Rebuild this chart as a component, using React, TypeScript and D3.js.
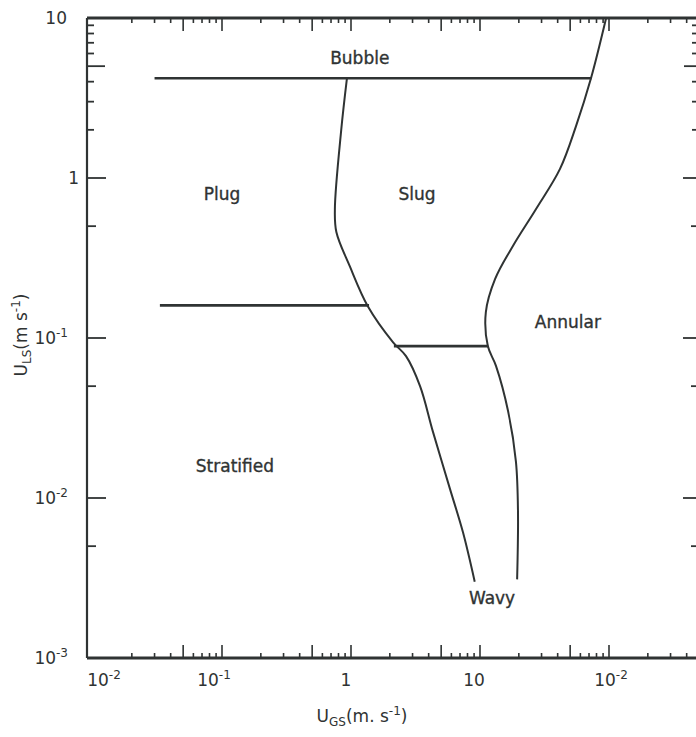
import React from "react";
import * as d3 from "d3";

// ---- data ----
// x: superficial gas velocity U_GS (m/s), y: superficial liquid velocity U_LS (m/s)
const leftBoundaryUGS = [0.93, 0.84, 0.75, 0.77, 0.98, 1.35, 2.12, 2.67, 3.43, 4.32, 5.85, 7.38, 9.1];
const leftBoundaryULS = [4.2, 2.0, 0.64, 0.46, 0.28, 0.158, 0.094, 0.077, 0.05, 0.0259, 0.0114, 0.0061, 0.003];

const rightBoundaryUGS = [95, 72.5, 55.5, 41.7, 27.2, 18.0, 13.1, 11.1, 11.5, 13.3, 16.5, 19.0, 19.7, 19.4];
const rightBoundaryULS = [10, 4.2, 2.11, 1.14, 0.64, 0.376, 0.234, 0.145, 0.089, 0.067, 0.035, 0.0168, 0.0082, 0.0031];

// horizontal transition lines: [UGS start, UGS end, ULS]
const bubbleLine = [0.03, 73, 4.2];
const plugStratLine = [0.033, 1.38, 0.16];
const slugWavyLine = [2.15, 11.6, 0.089];

const regimeNames = ["Bubble", "Plug", "Slug", "Annular", "Stratified", "Wavy"];
const regimeUGS = [1.17, 0.1, 3.25, 48, 0.126, 12.4];
const regimeULS = [5.6, 0.79, 0.79, 0.126, 0.0158, 0.00237];

const xTickValues = [0.01, 0.1, 1, 10, 100];
const xTickBase = ["10", "10", "1", "10", "10"];
const xTickExp = ["-2", "-1", "", "", "-2"];

const yTickValues = [10, 1, 0.1, 0.01, 0.001];
const yTickBase = ["10", "1", "10", "10", "10"];
const yTickExp = ["", "", "-1", "-2", "-3"];

// ---- layout ----
const W = 696, H = 737;
const FRAME = { left: 87, right: 700, top: 18, bottom: 658 };
const INK = "#2f3333";
const FONT = "'DejaVu Sans', sans-serif";
const xLabelDx = [11, -8, -5, -6, 2];

export default function App() {
  const x = d3.scaleLog().domain([0.01, 100]).range([93, 609]);
  const y = d3.scaleLog().domain([0.001, 10]).range([FRAME.bottom, FRAME.top]);

  const line = d3
    .line<[number, number]>()
    .x((d) => x(d[0]))
    .y((d) => y(d[1]))
    .curve(d3.curveCatmullRom.alpha(0.5));

  const leftPts = leftBoundaryUGS.map((v, i) => [v, leftBoundaryULS[i]] as [number, number]);
  const rightPts = rightBoundaryUGS.map((v, i) => [v, rightBoundaryULS[i]] as [number, number]);

  // tick sets
  const xMinor: number[] = [];
  const xLong: number[] = [];
  for (let e = -2; e <= 2; e++) {
    const base = Math.pow(10, e);
    for (let m = 2; m <= 9; m++) {
      const v = m * base;
      if (x(v) > FRAME.right - 8) continue;
      if (m === 5) xLong.push(v);
      else xMinor.push(v);
    }
    if (e > -2) xLong.push(base);
  }
  const yLong = [1, 0.1, 0.01];
  const yMid = [5, 0.5, 0.05, 0.005];
  const yMinor = [2, 3, 4, 6, 7, 8, 9];

  const hLine = (l: number[], key: string) => (
    <line
      key={key}
      x1={x(l[0])}
      x2={x(l[1])}
      y1={y(l[2])}
      y2={y(l[2])}
      stroke={INK}
      strokeWidth={2.6}
    />
  );

  return (
    <svg
      width={W}
      height={H}
      style={{ position: "absolute", left: 0, top: 0, background: "#fff" }}
      fontFamily={FONT}
    >
      <rect x={0} y={0} width={W} height={H} fill="#fff" />
      {/* frame */}
      <line x1={FRAME.left} x2={FRAME.right} y1={FRAME.top} y2={FRAME.top} stroke={INK} strokeWidth={2.8} />
      <line x1={FRAME.left} x2={FRAME.right} y1={FRAME.bottom} y2={FRAME.bottom} stroke={INK} strokeWidth={2.8} />
      <line x1={FRAME.left} x2={FRAME.left} y1={FRAME.top} y2={FRAME.bottom} stroke={INK} strokeWidth={2.2} />

      {/* top & bottom ticks (inward) */}
      {xMinor.map((v, i) => (
        <g key={"xm" + i} stroke={INK} strokeWidth={1.6}>
          <line x1={x(v)} x2={x(v)} y1={FRAME.top} y2={FRAME.top + 5} />
          <line x1={x(v)} x2={x(v)} y1={FRAME.bottom} y2={FRAME.bottom - 5} />
        </g>
      ))}
      {xLong.map((v, i) => (
        <g key={"xl" + i} stroke={INK} strokeWidth={1.6}>
          <line x1={x(v)} x2={x(v)} y1={FRAME.top} y2={FRAME.top + 13} />
          <line x1={x(v)} x2={x(v)} y1={FRAME.bottom} y2={FRAME.bottom - 13} />
        </g>
      ))}

      {/* left & right ticks (inward) */}
      {yLong.map((v, i) => (
        <g key={"yl" + i} stroke={INK} strokeWidth={1.8}>
          <line x1={FRAME.left} x2={FRAME.left + 19} y1={y(v)} y2={y(v)} />
          <line x1={696} x2={683} y1={y(v)} y2={y(v)} />
        </g>
      ))}
      {yMid.map((v, i) => (
        <g key={"yd" + i} stroke={INK} strokeWidth={1.8}>
          <line x1={FRAME.left} x2={FRAME.left + (v === 5 ? 18 : 9)} y1={y(v)} y2={y(v)} />
          <line x1={696} x2={v === 5 ? 684 : 691} y1={y(v)} y2={y(v)} />
        </g>
      ))}
      {yMinor.map((v, i) => (
        <g key={"yn" + i} stroke={INK} strokeWidth={1.8}>
          <line x1={FRAME.left} x2={FRAME.left + 7} y1={y(v)} y2={y(v)} />
          <line x1={696} x2={692} y1={y(v)} y2={y(v)} />
        </g>
      ))}

      {/* x tick labels */}
      {xTickValues.map((v, i) => (
        <text
          key={"xt" + i}
          x={x(v) + xLabelDx[i]}
          y={686}
          textAnchor="middle"
          fontSize={17}
          fill={INK}
        >
          {xTickBase[i]}
          {xTickExp[i] && (
            <tspan dy={-7} fontSize={12}>
              {xTickExp[i]}
            </tspan>
          )}
        </text>
      ))}

      {/* y tick labels */}
      {yTickValues.map((v, i) => (
        <text
          key={"yt" + i}
          x={yTickExp[i] ? 68 : v === 1 ? 79 : 67}
          y={y(v) + 6}
          textAnchor="end"
          fontSize={17}
          fill={INK}
        >
          {yTickBase[i]}
          {yTickExp[i] && (
            <tspan dy={-7} fontSize={12}>
              {yTickExp[i]}
            </tspan>
          )}
        </text>
      ))}

      {/* boundaries */}
      {hLine(bubbleLine, "bub")}
      {hLine(plugStratLine, "ps")}
      {hLine(slugWavyLine, "sw")}
      <path d={line(leftPts) || ""} fill="none" stroke={INK} strokeWidth={2} />
      <path d={line(rightPts) || ""} fill="none" stroke={INK} strokeWidth={2} />

      {/* regime labels */}
      {regimeNames.map((n, i) => (
        <text
          key={n}
          x={x(regimeUGS[i])}
          y={y(regimeULS[i]) + 6}
          textAnchor="middle"
          fontSize={17}
          fill={INK}
          stroke={INK}
          strokeWidth={0.35}
        >
          {n}
        </text>
      ))}

      {/* axis titles */}
      <text x={362} y={722} textAnchor="middle" fontSize={17} fill={INK}>
        U
        <tspan dy={4} fontSize={12}>GS</tspan>
        <tspan dy={-4}>(m. s</tspan>
        <tspan dy={-7} fontSize={12}>-1</tspan>
        <tspan dy={7}>)</tspan>
      </text>
      <text
        transform="translate(27,335) rotate(-90)"
        textAnchor="middle"
        fontSize={17}
        fill={INK}
      >
        U
        <tspan dy={4} fontSize={12}>LS</tspan>
        <tspan dy={-4}>(m s</tspan>
        <tspan dy={-7} fontSize={12}>-1</tspan>
        <tspan dy={7}>)</tspan>
      </text>
    </svg>
  );
}
